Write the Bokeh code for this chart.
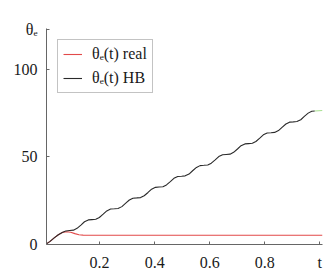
from bokeh.plotting import figure
from bokeh.models import Range1d, FixedTicker, Legend, LegendItem
from bokeh.embed import file_html
from bokeh.resources import INLINE

# ---- data ----
t_real = [0.008, 0.02, 0.035, 0.05, 0.065, 0.08, 0.095, 0.11, 0.125, 0.14, 0.16, 1.01]
theta_real = [0.5, 1.8, 3.8, 5.6, 6.9, 7.3, 7.0, 6.2, 5.6, 5.35, 5.3, 5.3]

t_hb = [0.008, 0.02, 0.035, 0.05, 0.064, 0.077,
        0.091, 0.105, 0.118, 0.132, 0.145, 0.159,
        0.172, 0.186, 0.199, 0.213, 0.226, 0.240,
        0.254, 0.267, 0.281, 0.294, 0.308, 0.321,
        0.335, 0.349, 0.362, 0.376, 0.389, 0.403,
        0.416, 0.430, 0.443, 0.457, 0.470, 0.484,
        0.498, 0.511, 0.525, 0.538, 0.552, 0.565,
        0.579, 0.593, 0.606, 0.620, 0.633, 0.647,
        0.660, 0.674, 0.687, 0.701, 0.714, 0.728,
        0.741, 0.755, 0.768, 0.782, 0.795, 0.809,
        0.823, 0.836, 0.850, 0.863, 0.877, 0.890,
        0.904, 0.917, 0.931, 0.944, 0.958, 0.971,
        0.982]
theta_hb = [0.5, 1.8, 3.8, 5.6, 6.9, 7.7,
            8.0, 8.18, 9.22, 11.1, 12.99, 14.03,
            14.2, 14.38, 15.42, 17.3, 19.19, 20.23,
            20.4, 20.58, 21.62, 23.5, 25.39, 26.43,
            26.6, 26.78, 27.82, 29.7, 31.59, 32.63,
            32.8, 32.98, 34.02, 35.9, 37.79, 38.83,
            39.0, 39.18, 40.22, 42.1, 43.99, 45.03,
            45.2, 45.38, 46.42, 48.3, 50.19, 51.23,
            51.4, 51.58, 52.62, 54.5, 56.39, 57.43,
            57.6, 57.78, 58.82, 60.7, 62.59, 63.63,
            63.8, 63.98, 65.02, 66.9, 68.79, 69.83,
            70.0, 70.18, 71.22, 73.1, 74.99, 76.03,
            76.2]

t_end = [0.982, 1.01]
theta_end = [76.2, 76.5]

x_ticks = [0.2, 0.4, 0.6, 0.8, 1.0]
y_ticks = [0, 50, 100, 123.0]
y_axis_name = "θₑ"
legend_labels = ["θₑ(t) real", "θₑ(t) HB"]

FONT = "Liberation Serif"

p = figure(width=324, height=273, output_backend="svg", toolbar_location=None,
           x_range=Range1d(0.007, 1.01), y_range=Range1d(0, 123.3),
           min_border_left=46, min_border_right=2, min_border_top=28, min_border_bottom=22)
p.outline_line_color = None
p.xgrid.visible = False
p.ygrid.visible = False
p.background_fill_color = "white"

r_real = p.line(t_real, theta_real, line_color="#e24a4a", line_width=1.1)
r_hb = p.line(t_hb, theta_hb, line_color="#2a2a2a", line_width=1.1)
p.line(t_end, theta_end, line_color="#a8e090", line_width=1.1)

for ax in (p.xaxis[0], p.yaxis[0]):
    ax.axis_line_color = "#666666"
    ax.major_tick_line_color = "#666666"
    ax.major_tick_in = 3
    ax.major_tick_out = 0
    ax.minor_tick_line_color = None
    ax.major_label_text_font = FONT
    ax.major_label_text_font_size = "16px"
    ax.major_label_text_color = "#1a1a1a"
    ax.major_label_standoff = 9

p.xaxis[0].ticker = FixedTicker(ticks=x_ticks)
p.xaxis[0].major_label_overrides = {1.0: "t", 0.2: "0.2", 0.4: "0.4", 0.6: "0.6", 0.8: "0.8"}
p.yaxis[0].ticker = FixedTicker(ticks=y_ticks)
p.yaxis[0].major_label_overrides = {123.0: y_axis_name}

legend = Legend(items=[LegendItem(label=legend_labels[0], renderers=[r_real]),
                       LegendItem(label=legend_labels[1], renderers=[r_hb])],
                location="top_left", margin=11, padding=5, spacing=6,
                glyph_width=19, glyph_height=18, label_height=18, label_standoff=10,
                border_line_color="#888888", border_line_width=1,
                label_text_font=FONT, label_text_font_size="16px", label_text_color="#1a1a1a",
                background_fill_color="white", background_fill_alpha=1.0)
p.add_layout(legend)

open("out.html", "w").write(file_html(p, INLINE))
